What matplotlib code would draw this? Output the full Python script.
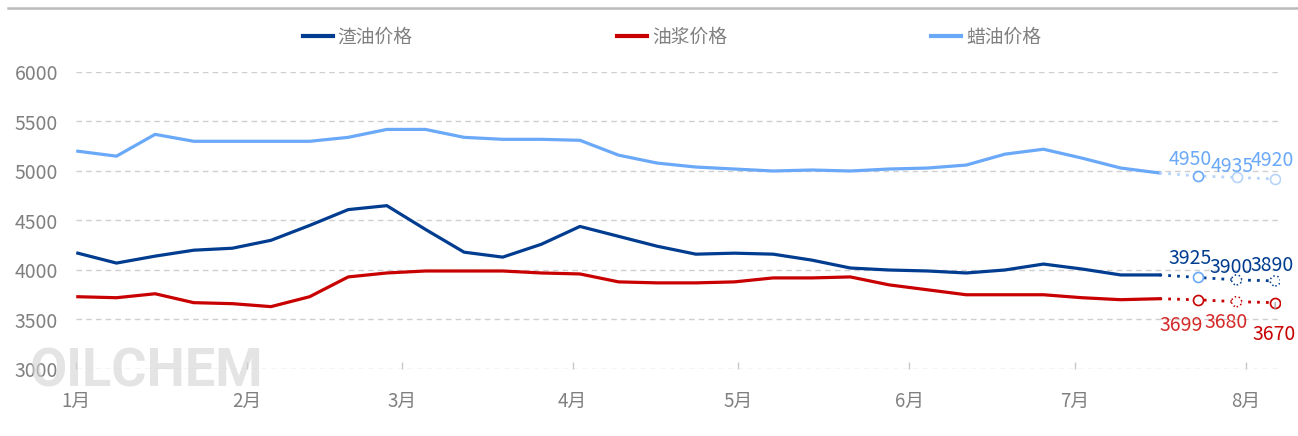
import matplotlib
matplotlib.use("Agg")
import matplotlib.pyplot as plt
from matplotlib.lines import Line2D
import pandas as pd

plt.rcParams['font.family'] = ['Noto Sans CJK SC', 'DejaVu Sans']

# ---------------- data ----------------
dates = pd.date_range('2025-01-01 08:00', periods=29, freq='7D')
fc_dates = pd.date_range('2025-07-16 08:00', periods=4, freq='7D')  # last actual + 3 forecasts

zhayou = [4170, 4070, 4140, 4200, 4220, 4300, 4450, 4610, 4650, 4410, 4180, 4130,
          4260, 4440, 4340, 4240, 4160, 4170, 4160, 4100, 4020, 4000, 3990, 3970,
          4000, 4060, 4010, 3950, 3950]
youjiang = [3730, 3720, 3760, 3670, 3660, 3630, 3730, 3930, 3970, 3990, 3990, 3990,
            3970, 3960, 3880, 3870, 3870, 3880, 3920, 3920, 3930, 3850, 3800, 3750,
            3750, 3750, 3720, 3700, 3710]
layou = [5200, 5150, 5370, 5300, 5300, 5300, 5300, 5340, 5420, 5420, 5340, 5320,
         5320, 5310, 5160, 5080, 5040, 5020, 5000, 5010, 5000, 5020, 5030, 5060,
         5170, 5220, 5130, 5030, 4980]

zhayou_fc = [3925, 3900, 3890]
youjiang_fc = [3699, 3680, 3670]
layou_fc = [4950, 4935, 4920]

series_names = ['渣油价格', '油浆价格', '蜡油价格']
month_ticks = pd.date_range('2025-01-01', periods=8, freq='MS')
month_labels = ['1月', '2月', '3月', '4月', '5月', '6月', '7月', '8月']
y_ticks = [3000, 3500, 4000, 4500, 5000, 5500, 6000]

# ---------------- style ----------------
c_dark = '#003C8F'
c_red = '#C80000'
c_light = '#6AA8F8'
c_light_pale = '#B6D4FA'
grey = '#808080'

fig = plt.figure(figsize=(12.98, 4.36), dpi=100)
ax = fig.add_axes([76/1298, 1-369/436, (1280-76)/1298, (369-72)/436])

# watermark
fig.text(30/1298, 1-372/436, 'OILCHEM', fontsize=39, fontweight='bold',
         color='#d2d2d2', alpha=0.6, family=['Roboto', 'DejaVu Sans'],
         va='center', ha='left', zorder=0)

lw = 2.3
ax.plot(dates, zhayou, color=c_dark, lw=lw, zorder=3, solid_joinstyle='round')
ax.plot(dates, youjiang, color=c_red, lw=lw, zorder=3, solid_joinstyle='round')
ax.plot(dates, layou, color=c_light, lw=lw, zorder=3, solid_joinstyle='round')

# forecast dotted lines
dot = (0, (1, 2.2))
ax.plot(fc_dates, [zhayou[-1]] + zhayou_fc, color=c_dark, lw=2, ls=dot, zorder=3)
ax.plot(fc_dates, [youjiang[-1]] + youjiang_fc, color=c_red, lw=2, ls=dot, zorder=3)
ax.plot(fc_dates, [layou[-1]] + layou_fc, color=c_light_pale, lw=2, ls=dot, zorder=3)

# forecast markers
fx = fc_dates[1:]
ms = 52
ax.scatter(fx[:1], layou_fc[:1], s=ms, facecolor='white', edgecolor=c_light, lw=1.2, zorder=4)
ax.scatter(fx[1:], layou_fc[1:], s=ms, facecolor='white', edgecolor=c_light_pale, lw=1.2, zorder=4)
ax.scatter(fx[:1], zhayou_fc[:1], s=ms, facecolor='white', edgecolor=c_light, lw=1.2, zorder=4)
ax.scatter(fx[1:], zhayou_fc[1:], s=ms, facecolor='white', edgecolor=c_dark, lw=1.1,
           linestyle=':', zorder=4)
ax.scatter([fx[0], fx[2]], [youjiang_fc[0], youjiang_fc[2]], s=ms, facecolor='white',
           edgecolor=c_red, lw=1.2, zorder=4)
ax.scatter(fx[1:2], youjiang_fc[1:2], s=ms, facecolor='white', edgecolor=c_red, lw=1.1,
           linestyle=':', zorder=4)

# labels
fs_lab = 14
light_off = [(-8, 16), (-4, 11), (-3, 18)]
dark_off = [(-8, 19), (-5, 12), (-3, 15)]
red_off = [(-17, -26), (-11, -21), (-1, -32)]
for d, v, o in zip(fx, layou_fc, light_off):
    ax.annotate(str(v), (d, v), xytext=o, textcoords='offset pixels', ha='center',
                va='center', color=c_light, fontsize=fs_lab, zorder=5)
for d, v, o in zip(fx, zhayou_fc, dark_off):
    ax.annotate(str(v), (d, v), xytext=o, textcoords='offset pixels', ha='center',
                va='center', color=c_dark, fontsize=fs_lab, zorder=5)
for i, (d, v, o) in enumerate(zip(fx, youjiang_fc, red_off)):
    if i == 2:
        ax.annotate(str(v), (d, v), xytext=o, textcoords='offset pixels', ha='center',
                    va='center', color=c_red, fontsize=fs_lab, zorder=5,
                    arrowprops=dict(arrowstyle='-', color='#aaaaaa', lw=1,
                                    shrinkA=9, shrinkB=5))
    else:
        ax.annotate(str(v), (d, v), xytext=o, textcoords='offset pixels', ha='center',
                    va='center', color='#D62A2A', fontsize=fs_lab, zorder=5)

# axes
ax.set_ylim(3000, 6000)
ax.set_xlim(pd.Timestamp('2025-01-01'), pd.Timestamp('2025-01-01') + pd.Timedelta(days=218.2))
ax.set_yticks(y_ticks)
ax.set_yticklabels([str(t) for t in y_ticks])
ax.set_xticks(month_ticks)
ax.set_xticklabels(month_labels)
ax.grid(axis='y', color='#cfcfcf', ls=(0, (4, 3)), lw=1)
ax.set_axisbelow(True)
for s in ['top', 'right', 'left', 'bottom']:
    ax.spines[s].set_visible(False)
ax.tick_params(axis='y', length=0, pad=13, labelsize=14, labelcolor=grey)
ax.tick_params(axis='x', direction='in', length=5, color='#c8c8c8', width=1,
               pad=16, labelsize=13.5, labelcolor=grey)

# legend
handles = [Line2D([], [], color=c, lw=3) for c in (c_dark, c_red, c_light)]
fig.legend(handles, series_names, loc='center', bbox_to_anchor=(672/1298, 1-37/436),
           ncol=3, frameon=False, fontsize=13.5, handlelength=1.6, handletextpad=0.25,
           columnspacing=10.9, labelcolor=grey)

# top rule
fig.add_artist(Line2D([8/1298, 1], [1-8/436, 1-8/436], color='#bbbbbb', lw=1.8,
                      transform=fig.transFigure))

fig.savefig('out.png', dpi=100)
